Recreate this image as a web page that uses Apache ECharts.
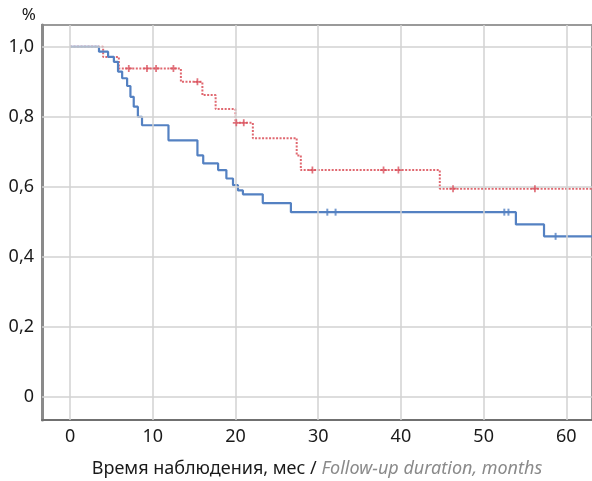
<!DOCTYPE html>
<html>
<head>
<meta charset="utf-8">
<script src="https://cdn.jsdelivr.net/npm/echarts@6/dist/echarts.min.js"></script>
<style>
  html, body { margin: 0; padding: 0; background: #fff; }
  #chart { width: 592px; height: 481px; }
</style>
</head>
<body>
<div id="chart"></div>
<script>
// tick positions
const xTicks = [0, 10, 20, 30, 40, 50, 60];
const yTicks = [0, 0.2, 0.4, 0.6, 0.8, 1.0];

// Kaplan-Meier steps: [month, survival] where the value changes
const blueSteps = [
  [0, 1.0], [3.5, 0.986], [4.6, 0.971], [5.3, 0.957], [5.8, 0.929],
  [6.3, 0.91], [6.9, 0.888], [7.3, 0.857], [7.7, 0.829], [8.2, 0.8],
  [8.7, 0.776], [11.9, 0.733], [15.4, 0.69], [16.1, 0.667], [17.9, 0.648],
  [18.9, 0.624], [19.7, 0.605], [20.3, 0.59], [20.9, 0.579], [23.3, 0.554],
  [26.7, 0.528], [53.9, 0.493], [57.3, 0.459], [63.1, 0.459]
];
const redSteps = [
  [0, 1.0], [4.0, 0.971], [5.9, 0.938], [13.4, 0.9], [16.0, 0.862],
  [17.6, 0.822], [20.0, 0.783], [22.1, 0.739], [27.4, 0.69], [27.9, 0.648],
  [44.7, 0.595], [63.1, 0.595]
];

// censored observations
const blueCensored = [[31.1, 0.528], [32.1, 0.528], [52.5, 0.528], [53.0, 0.528], [58.7, 0.459]];
const redCensored = [
  [7.1, 0.938], [9.3, 0.938], [10.4, 0.938], [12.5, 0.938], [15.4, 0.9],
  [20.1, 0.783], [21.0, 0.783], [29.3, 0.648], [37.9, 0.648], [39.7, 0.648],
  [46.3, 0.595], [56.2, 0.595]
];

const chart = echarts.init(document.getElementById('chart'));

const plusPath = 'path://M3,0h2v3h3v2h-3v3h-2v-3h-3v-2h3z';

chart.setOption({
  animation: false,
  grid: {
    left: 42, right: 0, top: 25, bottom: 61,
    containLabel: false,
    outerBoundsMode: 'none',
    show: true, borderColor: '#9a9a9a', borderWidth: 2, backgroundColor: '#fff'
  },
  xAxis: {
    type: 'value',
    min: -3.39,
    max: 63.1,
    axisLine: { show: true, onZero: false, lineStyle: { color: '#707070', width: 2 } },
    axisTick: { show: false },
    splitLine: { show: false },
    axisLabel: {
      customValues: xTicks,
      color: '#1a1a1a',
      fontSize: 18,
      fontFamily: 'Noto Sans',
      margin: 8
    },
    name: '{a|Время наблюдения, мес / }{b|Follow-up duration, months}',
    nameLocation: 'middle',
    nameGap: 40,
    nameTextStyle: {
      rich: {
        a: { color: '#1a1a1a', fontSize: 18, fontFamily: 'Noto Sans' },
        b: { color: '#8a8a8a', fontSize: 18, fontFamily: 'Noto Sans', fontStyle: 'italic' }
      }
    }
  },
  yAxis: {
    type: 'value',
    min: -0.065,
    max: 1.062,
    axisLine: { show: true, onZero: false, lineStyle: { color: '#8a8a8a', width: 3 } },
    axisTick: { show: false },
    splitLine: { show: false },
    axisLabel: {
      customValues: yTicks,
      color: '#1a1a1a',
      fontSize: 18,
      fontFamily: 'Noto Sans',
      margin: 8,
      formatter: v => (v === 0 ? '0' : v.toFixed(1).replace('.', ','))
    },
    name: '%',
    nameLocation: 'end',
    nameGap: 1,
    nameTextStyle: { color: '#1a1a1a', fontSize: 17, fontFamily: 'Noto Sans', align: 'right', padding: [0, 6, 0, 0] }
  },
  series: [
    {
      // grid lines from tick arrays
      type: 'line',
      data: [],
      silent: true,
      z: 1,
      markLine: {
        silent: true,
        symbol: 'none',
        label: { show: false },
        lineStyle: { color: '#d2d2d2', width: 1.5, type: 'solid' },
        data: xTicks.map(v => ({ xAxis: v })).concat(yTicks.map(v => ({ yAxis: v })))
      }
    },
    {
      type: 'line',
      step: 'end',
      data: redSteps,
      showSymbol: false,
      z: 3,
      lineStyle: { color: '#e06870', width: 2, type: [2, 1.5] }
    },
    {
      type: 'line',
      step: 'end',
      data: blueSteps,
      showSymbol: false,
      z: 4,
      lineStyle: { color: '#5481c2', width: 2.2 }
    },
    {
      type: 'scatter',
      data: redCensored,
      symbol: plusPath,
      symbolSize: 7,
      z: 5,
      itemStyle: { color: '#d9505c' }
    },
    {
      type: 'scatter',
      data: blueCensored,
      symbol: 'rect',
      symbolSize: [2, 7],
      z: 5,
      itemStyle: { color: '#5481c2' }
    }
  ]
});
</script>
</body>
</html>
